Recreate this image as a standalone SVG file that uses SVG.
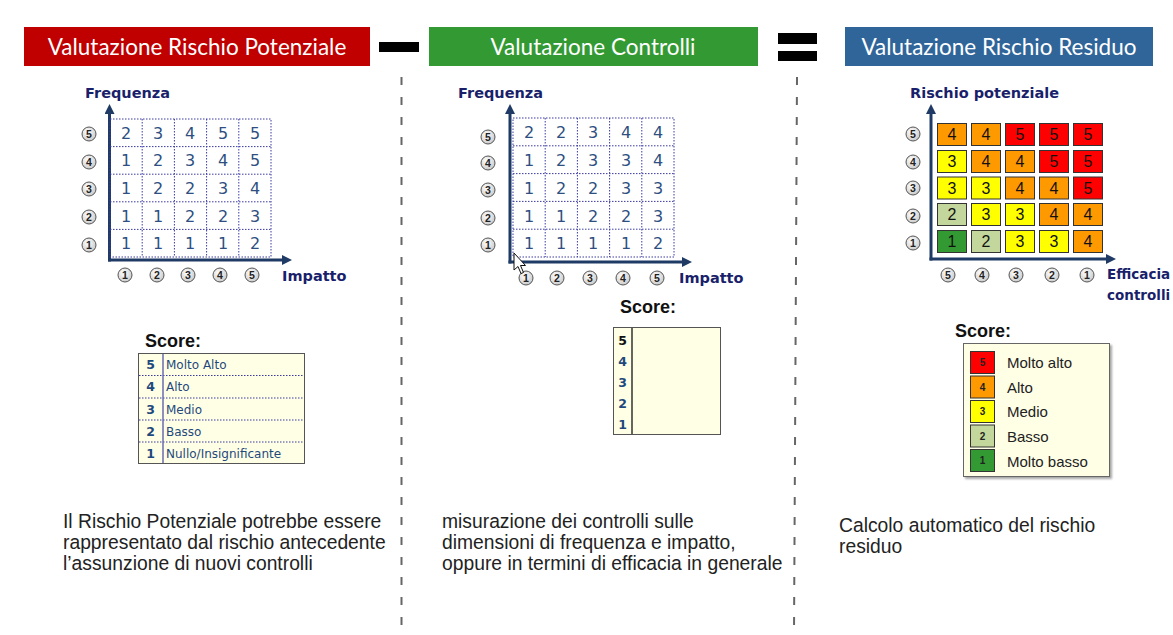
<svg xmlns="http://www.w3.org/2000/svg" width="1173" height="635" viewBox="0 0 1173 635">
<defs>
<style>
.hdr{font-family:Lato,"Open Sans",sans-serif;font-size:22.5px;fill:#fff;text-anchor:middle}
.axl{font-family:"DejaVu Sans",Verdana,sans-serif;font-weight:bold;font-size:14.5px;fill:#1a1f6b}
.ax{stroke:#1f3a64;stroke-width:3;fill:none}
.grid{stroke:#3a3aa0;stroke-width:1;stroke-dasharray:1.5 1.5;fill:none}
.gn{font-family:"DejaVu Sans",Verdana,sans-serif;font-size:16px;fill:#2e4f80;text-anchor:middle}
.ci{fill:url(#cg);stroke:#555;stroke-width:1}
.ct{font-family:"Liberation Sans",Arial,sans-serif;font-weight:bold;font-size:10.5px;fill:#222;text-anchor:middle}
.sc{font-family:"Liberation Sans",Arial,sans-serif;font-weight:bold;font-size:18px;fill:#111}
.tb{fill:#ffffe6;stroke:#555;stroke-width:1}
.tn{font-family:"DejaVu Sans",Verdana,sans-serif;font-weight:bold;font-size:12.5px;fill:#1f497d;text-anchor:middle}
.tt{font-family:"DejaVu Sans",Verdana,sans-serif;font-size:12px;fill:#1f497d}
.cell{stroke:#333;stroke-width:1}
.cn{font-family:"Liberation Sans",Arial,sans-serif;font-size:16px;fill:#111;text-anchor:middle}
.lg{font-family:"Liberation Sans",Arial,sans-serif;font-size:15px;fill:#222}
.ln{font-family:"Liberation Sans",Arial,sans-serif;font-weight:bold;font-size:10px;fill:#222;text-anchor:middle}
.body{font-family:"Liberation Sans",Arial,sans-serif;font-size:19.3px;fill:#222}
.sep{stroke:#666;stroke-width:2;stroke-dasharray:8 12}
.R{fill:#ff0000}.O{fill:#ff9900}.Y{fill:#ffff00}.LG{fill:#c3d69b}.G{fill:#339933}
</style>
<radialGradient id="cg" cx="0.4" cy="0.35" r="0.7">
<stop offset="0" stop-color="#ffffff"/><stop offset="1" stop-color="#c8c8c8"/>
</radialGradient>
<marker id="ah" viewBox="0 0 10 10" refX="1" refY="5" markerWidth="10" markerHeight="10" markerUnits="userSpaceOnUse" orient="auto">
<path d="M0,0 L10,5 L0,10 z" fill="#1f3a64"/>
</marker>
<filter id="sh" x="-5%" y="-5%" width="115%" height="115%">
<feDropShadow dx="2" dy="2" stdDeviation="1" flood-color="#000" flood-opacity="0.35"/>
</filter>
</defs>
<rect width="1173" height="635" fill="#fff"/>

<!-- headers -->
<g id="hdr-potenziale">
<rect x="24" y="27" width="346" height="39" fill="#c00000"/>
<text class="hdr" x="197" y="55">Valutazione Rischio Potenziale</text>
</g>
<g id="op-minus"><rect x="379" y="42" width="40" height="10" fill="#000"/></g>
<g id="hdr-controlli">
<rect x="429" y="27" width="329" height="39" fill="#339933"/>
<text class="hdr" x="593" y="55">Valutazione Controlli</text>
</g>
<g id="op-equal"><rect x="778" y="33" width="39" height="11" fill="#000"/><rect x="778" y="51" width="39" height="10" fill="#000"/></g>
<g id="hdr-residuo">
<rect x="845" y="27" width="308" height="39" fill="#30659a"/>
<text class="hdr" x="999" y="55">Valutazione Rischio Residuo</text>
</g>

<!-- separators -->
<g id="separators">
<line class="sep" x1="401.5" y1="77" x2="401.5" y2="635"/>
<line class="sep" x1="797" y1="77" x2="794" y2="635"/>
</g>

<!-- connectors: axes -->
<g id="connectors">
<line class="ax" x1="109.5" y1="261.5" x2="109.5" y2="113" marker-end="url(#ah)"/>
<line class="ax" x1="108" y1="260" x2="283" y2="260" marker-end="url(#ah)"/>
<line class="ax" x1="510" y1="263.5" x2="510" y2="113" marker-end="url(#ah)"/>
<line class="ax" x1="508.5" y1="262" x2="683" y2="262" marker-end="url(#ah)"/>
<line class="ax" x1="931" y1="260.5" x2="931" y2="113" marker-end="url(#ah)"/>
<line class="ax" x1="929.5" y1="259" x2="1107" y2="259" marker-end="url(#ah)"/>
</g>

<!-- left matrix -->
<g id="matrix-potenziale">
<text class="axl" x="85" y="98">Frequenza</text>
<text class="axl" x="282" y="281">Impatto</text>
<g class="grid">
<rect x="110" y="119" width="161" height="138"/>
<path d="M142.2,119V257M174.4,119V257M206.6,119V257M238.8,119V257M110,146.6H271M110,174.2H271M110,201.8H271M110,229.4H271"/>
</g>
<g>
<text class="gn" x="126" y="139">2</text><text class="gn" x="158" y="139">3</text><text class="gn" x="190" y="139">4</text><text class="gn" x="223" y="139">5</text><text class="gn" x="255" y="139">5</text>
<text class="gn" x="126" y="166">1</text><text class="gn" x="158" y="166">2</text><text class="gn" x="190" y="166">3</text><text class="gn" x="223" y="166">4</text><text class="gn" x="255" y="166">5</text>
<text class="gn" x="126" y="194">1</text><text class="gn" x="158" y="194">2</text><text class="gn" x="190" y="194">2</text><text class="gn" x="223" y="194">3</text><text class="gn" x="255" y="194">4</text>
<text class="gn" x="126" y="222">1</text><text class="gn" x="158" y="222">1</text><text class="gn" x="190" y="222">2</text><text class="gn" x="223" y="222">2</text><text class="gn" x="255" y="222">3</text>
<text class="gn" x="126" y="249">1</text><text class="gn" x="158" y="249">1</text><text class="gn" x="190" y="249">1</text><text class="gn" x="223" y="249">1</text><text class="gn" x="255" y="249">2</text>
</g>
<g>
<circle class="ci" cx="89" cy="134" r="7"/><text class="ct" x="89" y="137.7">5</text>
<circle class="ci" cx="89" cy="162" r="7"/><text class="ct" x="89" y="165.7">4</text>
<circle class="ci" cx="89" cy="189" r="7"/><text class="ct" x="89" y="192.7">3</text>
<circle class="ci" cx="89" cy="217" r="7"/><text class="ct" x="89" y="220.7">2</text>
<circle class="ci" cx="89" cy="245" r="7"/><text class="ct" x="89" y="248.7">1</text>
<circle class="ci" cx="125" cy="275" r="7"/><text class="ct" x="125" y="278.7">1</text>
<circle class="ci" cx="157" cy="275" r="7"/><text class="ct" x="157" y="278.7">2</text>
<circle class="ci" cx="188" cy="275" r="7"/><text class="ct" x="188" y="278.7">3</text>
<circle class="ci" cx="220" cy="275" r="7"/><text class="ct" x="220" y="278.7">4</text>
<circle class="ci" cx="252" cy="275" r="7"/><text class="ct" x="252" y="278.7">5</text>
</g>
</g>

<g id="score-potenziale">
<text class="sc" x="145" y="347">Score:</text>
<rect class="tb" x="138.5" y="353.5" width="166" height="110"/>
<path class="grid" d="M139,375.5H304M139,398H304M139,420H304M139,442H304"/>
<line x1="163" y1="354" x2="163" y2="463" stroke="#6b6bb0" stroke-width="1.5"/>
<text class="tn" x="150.5" y="368.5">5</text><text class="tt" x="166" y="368.5">Molto  Alto</text>
<text class="tn" x="150.5" y="391">4</text><text class="tt" x="166" y="391">Alto</text>
<text class="tn" x="150.5" y="413.5">3</text><text class="tt" x="166" y="413.5">Medio</text>
<text class="tn" x="150.5" y="435.5">2</text><text class="tt" x="166" y="435.5">Basso</text>
<text class="tn" x="150.5" y="457.5">1</text><text class="tt" x="166" y="457.5">Nullo/Insignificante</text>
</g>

<!-- middle matrix -->
<g id="matrix-controlli">
<text class="axl" x="458" y="98">Frequenza</text>
<text class="axl" x="679" y="283">Impatto</text>
<g class="grid">
<rect x="513" y="118" width="161" height="139"/>
<path d="M545.2,118V257M577.4,118V257M609.6,118V257M641.8,118V257M513,145.8H674M513,173.6H674M513,201.4H674M513,229.2H674"/>
</g>
<g>
<text class="gn" x="529" y="138">2</text><text class="gn" x="561" y="138">2</text><text class="gn" x="593" y="138">3</text><text class="gn" x="626" y="138">4</text><text class="gn" x="658" y="138">4</text>
<text class="gn" x="529" y="166">1</text><text class="gn" x="561" y="166">2</text><text class="gn" x="593" y="166">3</text><text class="gn" x="626" y="166">3</text><text class="gn" x="658" y="166">4</text>
<text class="gn" x="529" y="194">1</text><text class="gn" x="561" y="194">2</text><text class="gn" x="593" y="194">2</text><text class="gn" x="626" y="194">3</text><text class="gn" x="658" y="194">3</text>
<text class="gn" x="529" y="222">1</text><text class="gn" x="561" y="222">1</text><text class="gn" x="593" y="222">2</text><text class="gn" x="626" y="222">2</text><text class="gn" x="658" y="222">3</text>
<text class="gn" x="529" y="249">1</text><text class="gn" x="561" y="249">1</text><text class="gn" x="593" y="249">1</text><text class="gn" x="626" y="249">1</text><text class="gn" x="658" y="249">2</text>
</g>
<g>
<circle class="ci" cx="488" cy="137" r="7"/><text class="ct" x="488" y="140.7">5</text>
<circle class="ci" cx="488" cy="163" r="7"/><text class="ct" x="488" y="166.7">4</text>
<circle class="ci" cx="488" cy="190" r="7"/><text class="ct" x="488" y="193.7">3</text>
<circle class="ci" cx="488" cy="218" r="7"/><text class="ct" x="488" y="221.7">2</text>
<circle class="ci" cx="488" cy="245" r="7"/><text class="ct" x="488" y="248.7">1</text>
<circle class="ci" cx="526" cy="278" r="7"/><text class="ct" x="526" y="281.7">1</text>
<circle class="ci" cx="557" cy="278" r="7"/><text class="ct" x="557" y="281.7">2</text>
<circle class="ci" cx="590" cy="278" r="7"/><text class="ct" x="590" y="281.7">3</text>
<circle class="ci" cx="623" cy="278" r="7"/><text class="ct" x="623" y="281.7">4</text>
<circle class="ci" cx="657" cy="278" r="7"/><text class="ct" x="657" y="281.7">5</text>
</g>
<path d="M514,253 L514,270 L518,266.5 L521,273.5 L523.5,272.5 L520.5,265.5 L525.5,265.5 z" fill="#fff" stroke="#111" stroke-width="1"/>
</g>

<g id="score-controlli">
<text class="sc" x="620" y="313">Score:</text>
<rect class="tb" x="613.5" y="327.5" width="107" height="107" stroke="#333"/>
<line x1="632" y1="328" x2="632" y2="434" stroke="#333" stroke-width="1.5"/>
<text class="tn" x="622.5" y="345" style="fill:#111">5</text>
<text class="tn" x="622.5" y="366">4</text>
<text class="tn" x="622.5" y="387">3</text>
<text class="tn" x="622.5" y="408">2</text>
<text class="tn" x="622.5" y="429">1</text>
</g>

<!-- right matrix -->
<g id="matrix-residuo">
<text class="axl" x="910" y="98">Rischio potenziale</text>
<text class="axl" x="1107" y="279" style="font-size:13.5px">Efficacia</text>
<text class="axl" x="1107" y="300" style="font-size:13.5px">controlli</text>
<g>
<rect class="cell O" x="937.5" y="123.5" width="29" height="22"/><text class="cn" x="952" y="140">4</text>
<rect class="cell O" x="971.5" y="123.5" width="29" height="22"/><text class="cn" x="986" y="140">4</text>
<rect class="cell R" x="1005.5" y="123.5" width="29" height="22"/><text class="cn" x="1020" y="140">5</text>
<rect class="cell R" x="1039.5" y="123.5" width="29" height="22"/><text class="cn" x="1054" y="140">5</text>
<rect class="cell R" x="1073.5" y="123.5" width="29" height="22"/><text class="cn" x="1088" y="140">5</text>

<rect class="cell Y" x="937.5" y="150.5" width="29" height="22"/><text class="cn" x="952" y="167">3</text>
<rect class="cell O" x="971.5" y="150.5" width="29" height="22"/><text class="cn" x="986" y="167">4</text>
<rect class="cell O" x="1005.5" y="150.5" width="29" height="22"/><text class="cn" x="1020" y="167">4</text>
<rect class="cell R" x="1039.5" y="150.5" width="29" height="22"/><text class="cn" x="1054" y="167">5</text>
<rect class="cell R" x="1073.5" y="150.5" width="29" height="22"/><text class="cn" x="1088" y="167">5</text>

<rect class="cell Y" x="937.5" y="177" width="29" height="22"/><text class="cn" x="952" y="193.5">3</text>
<rect class="cell Y" x="971.5" y="177" width="29" height="22"/><text class="cn" x="986" y="193.5">3</text>
<rect class="cell O" x="1005.5" y="177" width="29" height="22"/><text class="cn" x="1020" y="193.5">4</text>
<rect class="cell O" x="1039.5" y="177" width="29" height="22"/><text class="cn" x="1054" y="193.5">4</text>
<rect class="cell R" x="1073.5" y="177" width="29" height="22"/><text class="cn" x="1088" y="193.5">5</text>

<rect class="cell LG" x="937.5" y="203.5" width="29" height="22"/><text class="cn" x="952" y="220">2</text>
<rect class="cell Y" x="971.5" y="203.5" width="29" height="22"/><text class="cn" x="986" y="220">3</text>
<rect class="cell Y" x="1005.5" y="203.5" width="29" height="22"/><text class="cn" x="1020" y="220">3</text>
<rect class="cell O" x="1039.5" y="203.5" width="29" height="22"/><text class="cn" x="1054" y="220">4</text>
<rect class="cell O" x="1073.5" y="203.5" width="29" height="22"/><text class="cn" x="1088" y="220">4</text>

<rect class="cell G" x="937.5" y="230.5" width="29" height="22"/><text class="cn" x="952" y="247">1</text>
<rect class="cell LG" x="971.5" y="230.5" width="29" height="22"/><text class="cn" x="986" y="247">2</text>
<rect class="cell Y" x="1005.5" y="230.5" width="29" height="22"/><text class="cn" x="1020" y="247">3</text>
<rect class="cell Y" x="1039.5" y="230.5" width="29" height="22"/><text class="cn" x="1054" y="247">3</text>
<rect class="cell O" x="1073.5" y="230.5" width="29" height="22"/><text class="cn" x="1088" y="247">4</text>
</g>
<g>
<circle class="ci" cx="913" cy="134" r="7"/><text class="ct" x="913" y="137.7">5</text>
<circle class="ci" cx="913" cy="162" r="7"/><text class="ct" x="913" y="165.7">4</text>
<circle class="ci" cx="913" cy="188" r="7"/><text class="ct" x="913" y="191.7">3</text>
<circle class="ci" cx="913" cy="216" r="7"/><text class="ct" x="913" y="219.7">2</text>
<circle class="ci" cx="913" cy="243" r="7"/><text class="ct" x="913" y="246.7">1</text>
<circle class="ci" cx="948" cy="275" r="7"/><text class="ct" x="948" y="278.7">5</text>
<circle class="ci" cx="982" cy="275" r="7"/><text class="ct" x="982" y="278.7">4</text>
<circle class="ci" cx="1016" cy="275" r="7"/><text class="ct" x="1016" y="278.7">3</text>
<circle class="ci" cx="1052" cy="275" r="7"/><text class="ct" x="1052" y="278.7">2</text>
<circle class="ci" cx="1087" cy="275" r="7"/><text class="ct" x="1087" y="278.7">1</text>
</g>
</g>

<g id="score-residuo">
<text class="sc" x="955" y="337">Score:</text>
<rect x="963.5" y="343.5" width="146" height="133" fill="#ffffe6" stroke="#666" stroke-width="1" filter="url(#sh)"/>
<rect class="cell R" x="970.5" y="351.5" width="24" height="22"/><text class="ln" x="982.5" y="366">5</text>
<rect class="cell O" x="970.5" y="376" width="24" height="22"/><text class="ln" x="982.5" y="390.5">4</text>
<rect class="cell Y" x="970.5" y="400.5" width="24" height="22"/><text class="ln" x="982.5" y="415">3</text>
<rect class="cell LG" x="970.5" y="425" width="24" height="22"/><text class="ln" x="982.5" y="439.5">2</text>
<rect class="cell G" x="970.5" y="449.5" width="24" height="22"/><text class="ln" x="982.5" y="464">1</text>
<text class="lg" x="1007" y="368">Molto alto</text>
<text class="lg" x="1007" y="393">Alto</text>
<text class="lg" x="1007" y="417">Medio</text>
<text class="lg" x="1007" y="442">Basso</text>
<text class="lg" x="1007" y="467">Molto basso</text>
</g>

<!-- descriptions -->
<g id="desc-potenziale">
<text class="body" x="63" y="528">Il Rischio Potenziale potrebbe essere</text>
<text class="body" x="63" y="549">rappresentato dal rischio antecedente</text>
<text class="body" x="63" y="570">l’assunzione  di nuovi  controlli</text>
</g>
<g id="desc-controlli">
<text class="body" x="442" y="528">misurazione dei controlli sulle</text>
<text class="body" x="442" y="549">dimensioni di frequenza e impatto,</text>
<text class="body" x="442" y="570">oppure in termini di efficacia in generale</text>
</g>
<g id="desc-residuo">
<text class="body" x="839" y="532">Calcolo automatico  del rischio</text>
<text class="body" x="839" y="553">residuo</text>
</g>
</svg>
